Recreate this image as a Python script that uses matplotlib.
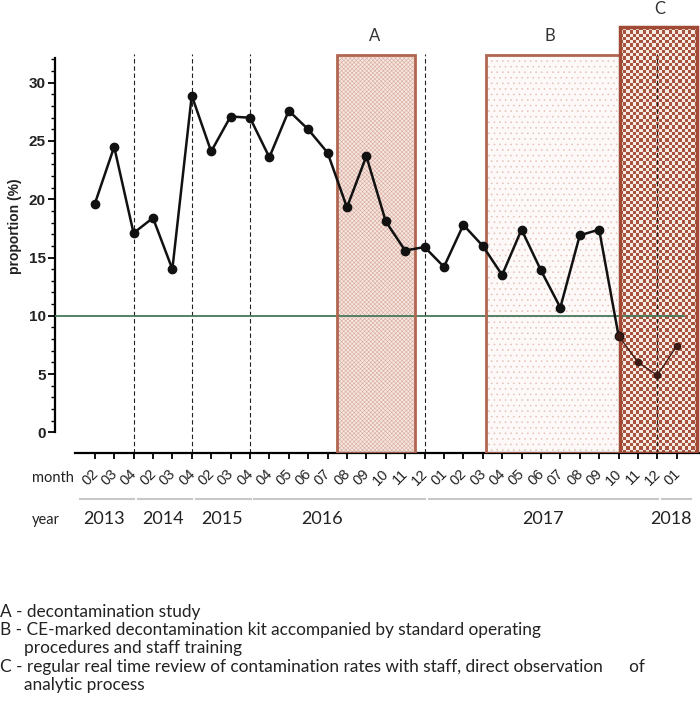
import numpy as np
import matplotlib
matplotlib.use("Agg")
import matplotlib.pyplot as plt
from matplotlib.patches import Rectangle
from matplotlib import transforms
from matplotlib.colors import ListedColormap

# ---------------- data ----------------
months = ["02", "03", "04", "02", "03", "04", "02", "03", "04",
          "04", "05", "06", "07", "08", "09", "10", "11", "12",
          "01", "02", "03", "04", "05", "06", "07", "08", "09", "10", "11", "12",
          "01"]
values = [19.6, 24.5, 17.1, 18.4, 14.0, 28.9, 24.1, 27.1, 27.0,
          23.6, 27.6, 26.0, 24.0, 19.3, 23.7, 18.1, 15.6, 15.9,
          14.2, 17.8, 16.0, 13.5, 17.4, 13.9, 10.7, 16.9, 17.4, 8.3, 6.0, 4.9,
          7.4]
years = ["2013", "2014", "2015", "2016", "2017", "2018"]
year_first = [0, 3, 6, 9, 18, 30]
year_last = [2, 5, 8, 17, 29, 30]
year_label_pos = [0.48, 3.52, 6.56, 11.72, 23.1, 29.7]
dashed_idx = [2, 5, 8, 17, 29]
threshold = 10
yticks = [0, 5, 10, 15, 20, 25, 30]
interventions = ["A", "B", "C"]
box_start = [12.47, 20.15, 27.1]
box_end = [16.5, 27.08, 31.07]
box_top = [32.4, 32.35, 34.8]
notes = ["A - decontamination study",
         "B - CE-marked decontamination kit accompanied by standard operating",
         "procedures and staff training",
         "C - regular real time review of contamination rates with staff, direct observation      of",
         "analytic process"]
note_indent = [False, False, True, False, True]

# ---------------- figure ----------------
W, H = 700, 712
plt.rcParams["hatch.linewidth"] = 0.4
fig = plt.figure(figsize=(W / 100, H / 100), dpi=100)
ax = fig.add_axes([55 / W, 1 - 452.7 / H, 645 / W, 452.7 / H])
ax.set_xlim(-2.05, 31.2)
ax.set_ylim(-1.75, 37.1)
ax.patch.set_alpha(0)

edge = "#b06650"
x = np.arange(len(values))

# A
ax.add_patch(Rectangle((box_start[0], -1.75), box_end[0] - box_start[0], box_top[0] + 1.75,
                       facecolor="#f6e7e2", edgecolor="#d9aa9b", hatch="xxxxxxxx", lw=0, zorder=1))
ax.add_patch(Rectangle((box_start[0], -1.75), box_end[0] - box_start[0], box_top[0] + 1.75,
                       fill=False, edgecolor=edge, lw=2, zorder=4))
# B
ax.add_patch(Rectangle((box_start[1], -1.75), box_end[1] - box_start[1], box_top[1] + 1.75,
                       facecolor="#fdf9f8", edgecolor="#e3c0b5", hatch="...", lw=0, zorder=1))
ax.add_patch(Rectangle((box_start[1], -1.75), box_end[1] - box_start[1], box_top[1] + 1.75,
                       fill=False, edgecolor=edge, lw=2, zorder=4))
# C checkerboard
nx, ny = 24, 130
checker = (np.add.outer(np.arange(ny), np.arange(nx)) % 2).astype(float)
cmap = ListedColormap(["#a7533d", "#f7ebe6"])
ax.imshow(checker, cmap=cmap, extent=(box_start[2], box_end[2], -1.75, box_top[2]),
          aspect="auto", interpolation="nearest", zorder=1)
ax.add_patch(Rectangle((box_start[2], -1.75), box_end[2] - box_start[2], box_top[2] + 1.75,
                       fill=False, edgecolor="#a04a35", lw=2.5, zorder=4))

# dashed separators
for d in dashed_idx:
    ax.plot([d, d], [-1.75, 32.5], color="#222222", lw=0.8, ls=(0, (4, 2.5)), zorder=2)

# threshold line
ax.plot([-2.05, 30.4], [threshold, threshold], color="#46785a", lw=1.3, zorder=3)

# data line
ax.plot(x[:28], values[:28], color="#111111", lw=1.8, marker="o", ms=6, zorder=5)
ax.plot(x[27:], values[27:], color="#3a1a12", lw=0.9, marker="o", ms=4.5, zorder=5)

# labels A B C
ax.text(14.4, 34.05, interventions[0], ha="center", va="center", fontsize=12, family="Lato", color="#333333")
ax.text(23.47, 34.05, interventions[1], ha="center", va="center", fontsize=12, family="Lato", color="#333333")
ax.text(29.15, 36.3, interventions[2], ha="center", va="center", fontsize=12, family="Lato", color="#333333")

# spines / ticks
for s in ["top", "right"]:
    ax.spines[s].set_visible(False)
ax.spines["left"].set_bounds(0, 32.1)
ax.spines["left"].set_linewidth(1.6)
ax.spines["bottom"].set_bounds(-1.0, 31.2)
ax.spines["bottom"].set_linewidth(1.6)
ax.set_yticks(yticks)
ax.set_yticks(np.arange(0, 33, 1), minor=True)
ax.set_yticklabels([str(t) for t in yticks], fontsize=11, fontweight="bold", family="Liberation Sans",
                   color="#222222")
ax.tick_params(axis="y", which="major", length=5, width=1.3, pad=1.5)
ax.tick_params(axis="y", which="minor", length=2.6, width=1.0)
ax.set_xticks(x)
ax.set_xticklabels([])
ax.tick_params(axis="x", which="major", length=4.2, width=1.3)
ax.set_ylabel("proportion (%)", fontsize=10, fontweight="bold", family="Liberation Sans", labelpad=5,
              color="#222222")

# month labels
tr = transforms.blended_transform_factory(ax.transData, fig.transFigure)
for i, m in enumerate(months):
    ax.text(i + 0.05, 1 - 471.5 / H, m, transform=tr, rotation=45, rotation_mode="anchor",
            ha="right", va="center", fontsize=10.5, family="Liberation Sans", color="#222222")
fig.text(32 / W, 1 - 478 / H, "month", ha="left", va="center", fontsize=10.5, family="Lato", color="#222222")
fig.text(32 / W, 1 - 520 / H, "year", ha="left", va="center", fontsize=10.5, family="Lato", color="#222222")

# year lines & labels
for k, yname in enumerate(years):
    start = year_first[k] - 0.78
    end = year_last[k] + (0.75 if k == len(years) - 1 else 0.03)
    ax.plot([start, end], [1 - 499 / H] * 2, transform=tr, color="#c8c8c8", lw=1.5, clip_on=False)
    ax.text(year_label_pos[k], 1 - 519 / H, yname, transform=tr, ha="center", va="center",
            fontsize=13, family="Lato", color="#222222")

# notes
note_y = [612, 630, 648, 667, 685]
for t, ny_, ind in zip(notes, note_y, note_indent):
    fig.text((24 if ind else 0) / W, 1 - ny_ / H, t, ha="left", va="center",
             fontsize=12.4, family="Lato", color="#222222")

fig.savefig("out.png", dpi=100)
